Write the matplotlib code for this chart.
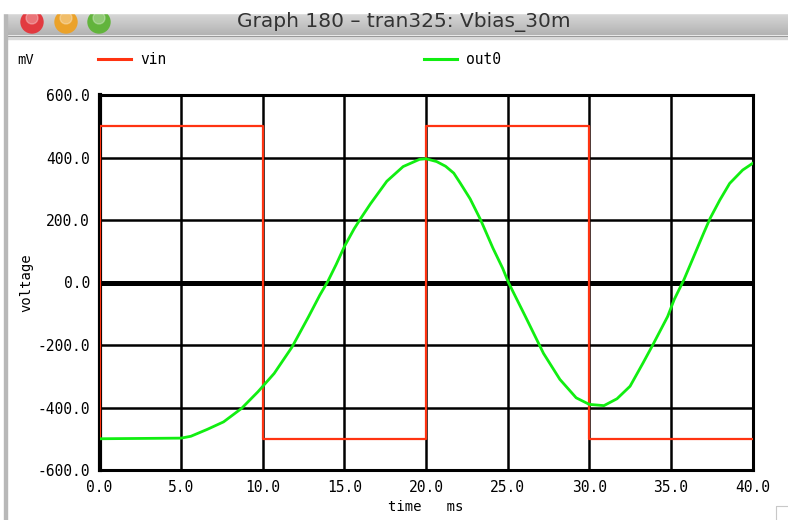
import numpy as np
import matplotlib
matplotlib.use("Agg")
import matplotlib.pyplot as plt
from matplotlib.patches import Rectangle, Circle

# ----------------------------
# Data
# ----------------------------
title = "Graph 180 \u2013 tran325: Vbias_30m"

vin_t = [0, 0, 10, 20, 30, 40]
vin_v = [-500, 500, -500, 500, -500, -500]

out_t = [0.0, 5.0, 5.6, 6.6, 7.6, 8.7, 9.7, 10.7, 11.8, 12.8, 13.5, 14.0,
         14.5, 15.0, 15.6, 16.0, 16.6, 17.6, 18.6, 19.6, 20.0, 20.65, 21.2,
         21.7, 22.1, 22.7, 23.35, 24.1, 24.7, 25.05, 26.1, 27.2, 28.2, 29.2,
         30.0, 30.9, 31.7, 32.5, 33.3, 33.9, 34.8, 35.2, 35.8, 36.4, 37.0,
         37.4, 38.0, 38.6, 39.4, 40.0]
out_v = [-500, -498, -492, -470, -446, -403, -350, -291, -206, -110, -40, 5,
         58, 115, 172, 205, 252, 324, 371, 394, 396, 387, 372,
         350, 318, 268, 200, 110, 45, 0, -110, -227, -310, -369,
         -390, -394, -372, -332, -257, -199, -109, -55, 9, 83, 157,
         205, 264, 317, 360, 381]

x_ticks = [0, 5, 10, 15, 20, 25, 30, 35, 40]
y_ticks = [-600, -400, -200, 0, 200, 400, 600]

RED = "#ff3311"
GREEN = "#11ee11"
MONO = "DejaVu Sans Mono"

W, H = 788, 520
fig = plt.figure(figsize=(W / 100, H / 100), dpi=100)
fig.patch.set_facecolor("white")

# ----------------------------
# Window chrome
# ----------------------------
chrome = fig.add_axes([0, 0, 1, 1])
chrome.set_xlim(0, W)
chrome.set_ylim(H, 0)
chrome.axis("off")

grad = np.linspace(0.86, 0.70, 50).reshape(-1, 1)
chrome.imshow(grad, cmap="gray", vmin=0, vmax=1, aspect="auto",
              extent=[5, W, 35.5, 12], zorder=1)
chrome.add_patch(Rectangle((5, 35.5), W, 1.5, color="#8a8a8a", zorder=2))
chrome.add_patch(Rectangle((5, 37), W, 1.5, color="#d8d8d8", zorder=2))
chrome.add_patch(Rectangle((4.5, 12), 3, H - 12, color="#b8b8b8", zorder=2))
for cx, col in [(32, "#e23a40"), (66, "#eba22a"), (99, "#62b43c")]:
    chrome.add_patch(Circle((cx, 22), 11, color=col, zorder=3))
    chrome.add_patch(Circle((cx, 18), 6, color="white", alpha=0.3, zorder=4))
chrome.add_patch(Rectangle((0, 0), W, 12.5, color="white", zorder=5))
chrome.text(404, 22, title, fontsize=14.5, color="#333333",
            ha="center", va="center", zorder=6)
chrome.add_patch(Rectangle((776, 506), 14, 16, fill=False,
                           edgecolor="#c8c8c8", lw=0.8, zorder=2))

# legend row
chrome.text(17, 60, "mV", fontsize=10, family=MONO, va="center")
chrome.plot([98, 131], [59, 59], color=RED, lw=2.2)
chrome.text(140, 60, "vin", fontsize=10.5, family=MONO, va="center")
chrome.plot([424, 457], [59, 59], color=GREEN, lw=2.2)
chrome.text(466, 60, "out0", fontsize=10.5, family=MONO, va="center")

# ----------------------------
# Plot
# ----------------------------
ax = fig.add_axes([99.5 / W, 50 / H, 653 / W, 375 / H])
ax.set_xlim(0, 40)
ax.set_ylim(-600, 600)

for x in x_ticks[1:-1]:
    ax.axvline(x, color="black", lw=1.8, zorder=1)
for y in y_ticks[1:-1]:
    ax.axhline(y, color="black", lw=3.6 if y == 0 else 1.8, zorder=1)

ax.plot(vin_t, vin_v, color=RED, lw=1.6, drawstyle="steps-post", zorder=3)
ax.plot(out_t, out_v, color=GREEN, lw=2.0, zorder=4)

for s in ax.spines.values():
    s.set_linewidth(2.2)
ax.spines["left"].set_linewidth(3)

ax.set_xticks(x_ticks)
ax.set_xticklabels([f"{x:.1f}" for x in x_ticks])
ax.set_yticks(y_ticks)
ax.set_yticklabels([f"{y:.1f}" for y in y_ticks])
ax.tick_params(length=0, labelsize=10.5, pad=7)
for lab in ax.get_xticklabels() + ax.get_yticklabels():
    lab.set_family(MONO)

ax.set_xlabel("time   ms", fontsize=10, family=MONO, labelpad=4)
ax.set_ylabel("voltage", fontsize=10, family=MONO, labelpad=3)

fig.savefig("out.png", dpi=100)
